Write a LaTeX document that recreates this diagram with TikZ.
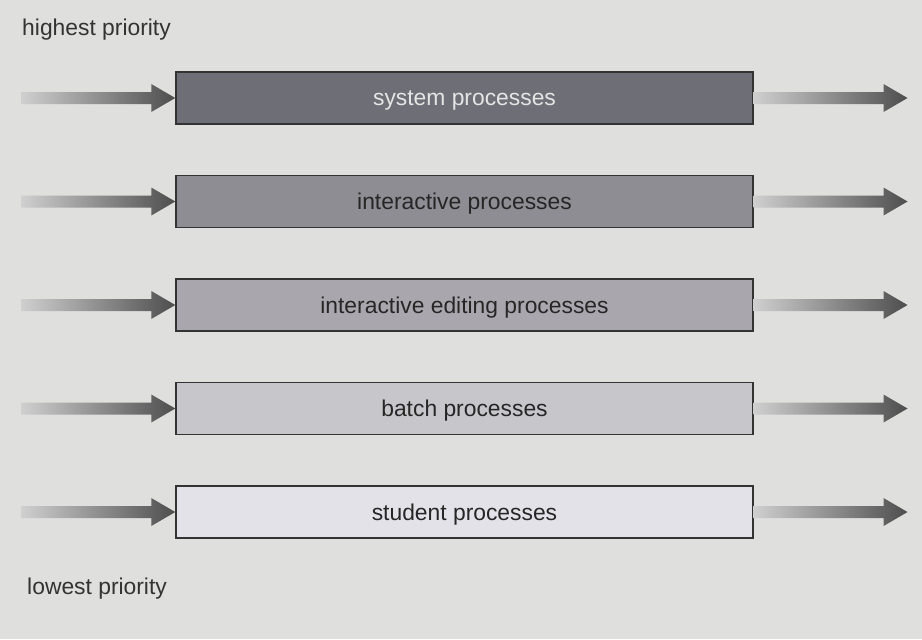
\documentclass[tikz,border=0pt]{standalone}
\usepackage{fontspec}
\setmainfont{Liberation Sans}
\usepackage{xcolor}
\usetikzlibrary{positioning, calc}

\definecolor{bgcol}{HTML}{DFDFDD}
\definecolor{sysfill}{HTML}{6E6E76}
\definecolor{intfill}{HTML}{8E8D93}
\definecolor{editfill}{HTML}{A9A7AD}
\definecolor{batchfill}{HTML}{C7C6CA}
\definecolor{studfill}{HTML}{E3E2E8}
\definecolor{shaftlight}{HTML}{CFCFCF}
\definecolor{shaftdark}{HTML}{4E4E4E}

\begin{document}
\begin{tikzpicture}[x=0.03cm, y=-0.03cm, node distance=3.105cm, on grid,
    queue/.style={draw=black!80, line width=1.2pt, minimum width=17.31cm,
      minimum height=1.56cm, inner sep=0pt, text depth=0pt, text=black!85},
    fat/.style={left color=shaftlight, right color=shaftdark, to path={
      ($(\tikztostart)+(0,6)$) -- ($(\tikztotarget)+(-24,6)$)
      -- ($(\tikztotarget)+(-24,14)$) -- (\tikztotarget)
      -- ($(\tikztotarget)+(-24,-14)$) -- ($(\tikztotarget)+(-24,-6)$)
      -- ($(\tikztostart)+(0,-6)$) -- cycle}},
    every node/.style={font=\fontsize{19.5}{23}\selectfont}]
        \useasboundingbox[fill=bgcol] (0,0) rectangle (922,639);

        \node[queue, fill=sysfill, text=black!10] (sys) at (464.5,98) {system processes};
        \node[queue, fill=intfill] (inter) [below=of sys] {interactive processes};
        \node[queue, fill=editfill] (edit) [below=of inter] {interactive editing processes};
        \node[queue, fill=batchfill] (batch) [below=of edit] {batch processes};
        \node[queue, fill=studfill] (stud) [below=of batch] {student processes};

        \node[anchor=west, inner sep=0pt, text=black!80] (high) at (22,30) {highest priority};
        \node[anchor=west, inner sep=0pt, text=black!80] (low) at (27,589) {lowest priority};

        % queue entries and exits
        \foreach \q in {sys, inter, edit, batch, stud} {
            \coordinate[left=13.29cm of \q] (in-\q);
            \coordinate[right=13.29cm of \q] (out-\q);
            \shade[fat] (in-\q) to (\q.west);
            \shade[fat] (\q.east) to (out-\q);
        }
\end{tikzpicture}
\end{document}
